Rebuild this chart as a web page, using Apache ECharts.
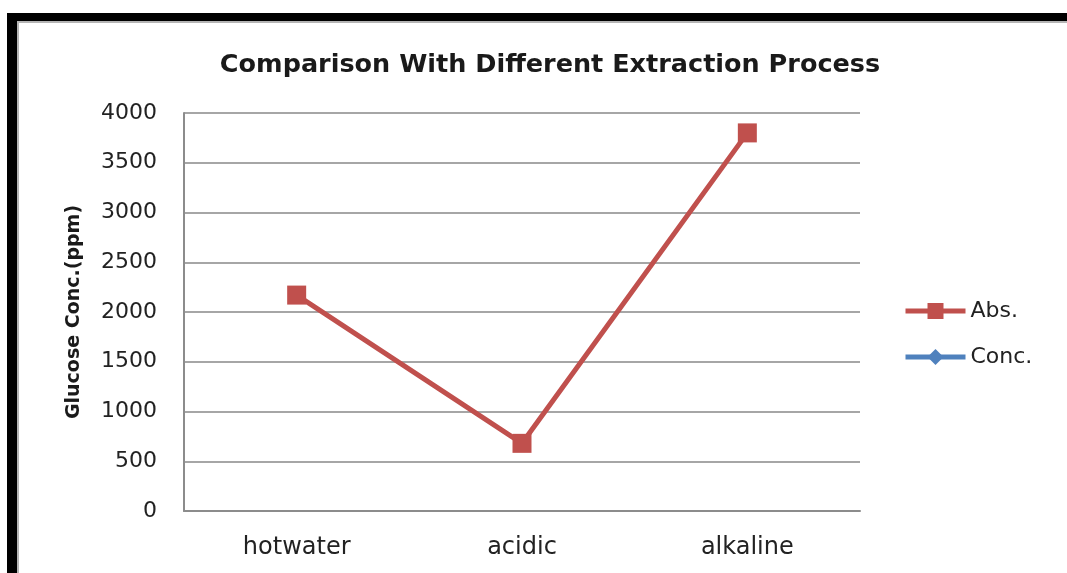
<!DOCTYPE html>
<html>
<head>
<meta charset="utf-8">
<script src="https://cdn.jsdelivr.net/npm/echarts@6/dist/echarts.min.js"></script>
<style>
  html, body { margin: 0; padding: 0; background: #ffffff; }
  #chart { width: 1067px; height: 573px; }
</style>
</head>
<body>
<div id="chart"></div>
<script>
// Extraction methods on the category axis
const categories = ['hotwater', 'acidic', 'alkaline'];
// Glucose concentration (ppm) per method
const absValues = [2170, 680, 3800];
const concValues = [null, null, null];
// Value axis ticks
const yMin = 0;
const yMax = 4000;
const yStep = 500;

const chart = echarts.init(document.getElementById('chart'), null, { renderer: 'canvas' });

const labelFont = 'DejaVu Sans';

chart.setOption({
  backgroundColor: '#ffffff',
  animation: false,
  title: {
    text: 'Comparison With Different Extraction Process',
    left: 545,
    textAlign: 'center',
    top: 47,
    textStyle: {
      fontFamily: 'DejaVu Sans',
      fontWeight: 'bold',
      fontSize: 25.5,
      color: '#1a1a1a'
    }
  },
  graphic: [
    // frame edges along the top and left
    { type: 'rect', shape: { x: 7, y: 13, width: 1060, height: 8 }, style: { fill: '#000000' }, z: 10 },
    { type: 'rect', shape: { x: 7, y: 13, width: 10, height: 560 }, style: { fill: '#000000' }, z: 10 },
    { type: 'rect', shape: { x: 17, y: 21, width: 1050, height: 2 }, style: { fill: '#b5b5b5' }, z: 9 },
    { type: 'rect', shape: { x: 17, y: 21, width: 2, height: 552 }, style: { fill: '#b5b5b5' }, z: 9 }
  ],
  legend: {
    orient: 'vertical',
    left: 898,
    top: 295,
    itemGap: 24,
    itemWidth: 60,
    itemHeight: 20,
    textStyle: { fontFamily: labelFont, fontSize: 22, color: '#222' },
    data: [
      { name: 'Abs.', lineStyle: { width: 5 } },
      { name: 'Conc.', lineStyle: { width: 5 } }
    ]
  },
  grid: {
    left: 184,
    right: 207,
    top: 113,
    bottom: 62,
    containLabel: false
  },
  xAxis: {
    type: 'category',
    data: categories,
    boundaryGap: true,
    axisLine: { lineStyle: { color: '#8c8c8c', width: 2 } },
    axisTick: { show: false },
    axisLabel: {
      margin: 25,
      fontFamily: labelFont,
      fontSize: 24,
      color: '#222'
    }
  },
  yAxis: {
    type: 'value',
    min: yMin,
    max: yMax,
    interval: yStep,
    name: 'Glucose Conc.(ppm)',
    nameLocation: 'middle',
    nameGap: 100,
    nameTextStyle: {
      fontFamily: 'DejaVu Sans',
      fontWeight: 'bold',
      fontSize: 19,
      color: '#1a1a1a'
    },
    axisLine: { show: true, lineStyle: { color: '#8c8c8c', width: 2 } },
    axisTick: { show: false },
    axisLabel: {
      margin: 27,
      fontFamily: labelFont,
      fontSize: 22,
      color: '#222',
      formatter: (v) => String(v)
    },
    splitLine: { lineStyle: { color: '#a6a6a6', width: 2 } }
  },
  series: [
    {
      name: 'Abs.',
      type: 'line',
      data: absValues,
      symbol: 'rect',
      symbolSize: 19,
      itemStyle: { color: '#c0504d' },
      lineStyle: { color: '#c0504d', width: 5 },
      z: 3
    },
    {
      name: 'Conc.',
      type: 'line',
      data: concValues,
      symbol: 'diamond',
      symbolSize: 12,
      itemStyle: { color: '#4f81bd' },
      lineStyle: { color: '#4f81bd', width: 5 },
      z: 2
    }
  ]
});
</script>
</body>
</html>
